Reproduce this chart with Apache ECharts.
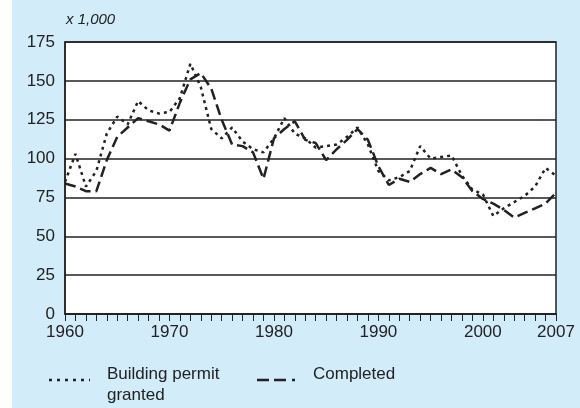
<!DOCTYPE html>
<html>
<head>
    <meta charset="utf-8">
    <title>Housing</title>
    <script src="https://cdn.jsdelivr.net/npm/echarts@6/dist/echarts.min.js"></script>
    <style>
        body { margin: 0; background: #fff; }
    </style>
</head>
<body>
<div id="chart" style="width: 580px;height:408px;"></div>
<script type="text/javascript">

    // years on the x axis
    var years = ['1960','1961','1962','1963','1964','1965','1966','1967','1968','1969',
        '1970','1971','1972','1973','1974','1975','1976','1977','1978','1979',
        '1980','1981','1982','1983','1984','1985','1986','1987','1988','1989',
        '1990','1991','1992','1993','1994','1995','1996','1997','1998','1999',
        '2000','2001','2002','2003','2004','2005','2006','2007'];
    var shownYears = ['1960','1970','1980','1990','2000','2007'];

    // x 1,000 dwellings
    var permitGranted = [85,103,82,92,116,127,122,137,131,129,
        130,139,161,146,119,113,120,111,106,104,
        113,126,116,113,107,108,109,114,120,109,
        92,86,88,92,108,100,101,102,89,80,
        77,63,68,72,76,82,94,89];
    var completed = [84,82,79,79,99,114,120,126,124,122,
        118,136,151,155,145,125,109,108,104,87,
        113,119,124,112,110,99,106,112,119,112,
        95,83,87,85,90,94,90,93,88,79,
        74,71,67,62,65,68,71,78];

    var ink = '#222';
    var font = '"Liberation Sans", Arial, sans-serif';

    var myChart = echarts.init(document.getElementById('chart'));

    myChart.setOption({
        animation: false,
        backgroundColor: 'transparent',
        grid: {
            left: 65, right: 24, top: 42, bottom: 94,
            show: true, backgroundColor: '#fff',
            borderColor: ink, borderWidth: 1.5
        },
        graphic: [
            {type: 'rect', z: -10, silent: true,
                shape: {x: 12, y: 0, width: 568, height: 408},
                style: {fill: '#d3ecf9'}},
            {type: 'text', left: 66, top: 12,
                style: {text: 'x 1,000', font: 'italic 15px ' + font, fill: ink}},
            // legend
            {type: 'line', shape: {x1: 49, y1: 380, x2: 90, y2: 380},
                style: {stroke: ink, lineWidth: 2.5, lineDash: [3, 5]}},
            {type: 'text', left: 107, top: 364,
                style: {text: 'Building permit\ngranted', font: '17px ' + font,
                    fill: ink, lineHeight: 21}},
            {type: 'line', shape: {x1: 257, y1: 380, x2: 298, y2: 380},
                style: {stroke: ink, lineWidth: 2.5, lineDash: [12, 5, 12, 6, 3, 50]}},
            {type: 'text', left: 313, top: 364,
                style: {text: 'Completed', font: '17px ' + font, fill: ink, lineHeight: 21}}
        ],
        xAxis: {
            type: 'category',
            data: years,
            boundaryGap: false,
            axisLine: {lineStyle: {color: ink, width: 1.5}},
            axisTick: {show: true, interval: 0, length: 7, lineStyle: {color: ink}},
            axisLabel: {
                interval: function (i, v) { return shownYears.indexOf(v) >= 0; },
                color: ink, fontSize: 17, fontFamily: font, margin: 10
            },
            splitLine: {show: false}
        },
        yAxis: {
            type: 'value',
            min: 0, max: 175, interval: 25,
            axisLine: {show: true, lineStyle: {color: ink, width: 1.5}},
            axisTick: {show: false},
            axisLabel: {color: ink, fontSize: 17, fontFamily: font, margin: 10},
            splitLine: {lineStyle: {color: ink, width: 1.5}}
        },
        series: [{
            name: 'Building permit granted',
            type: 'line',
            data: permitGranted,
            symbol: 'none',
            lineStyle: {color: ink, width: 2.5, type: [3, 4]}
        }, {
            name: 'Completed',
            type: 'line',
            data: completed,
            symbol: 'none',
            lineStyle: {color: ink, width: 2.5, type: [11, 5]}
        }]
    });

</script>
</body>
</html>
